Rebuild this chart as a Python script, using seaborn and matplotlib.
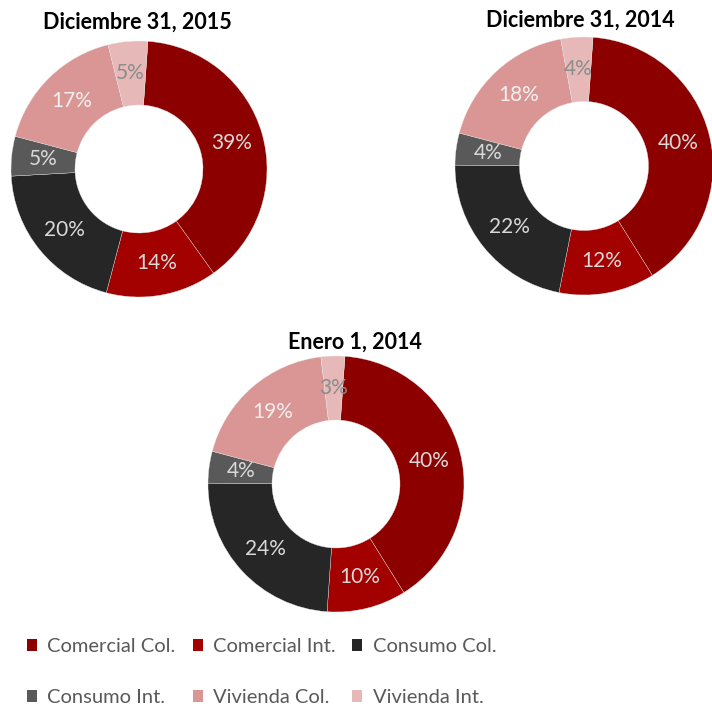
import numpy as np
import pandas as pd
import matplotlib
matplotlib.use("Agg")
import matplotlib.pyplot as plt
import seaborn as sns
from matplotlib.patches import Patch

# Datos (porcentajes)
categorias = ['Comercial Col.', 'Comercial Int.', 'Consumo Col.',
              'Consumo Int.', 'Vivienda Col.', 'Vivienda Int.']
dic_2015 = [39, 14, 20, 5, 17, 5]
dic_2014 = [40, 12, 22, 4, 18, 4]
ene_2014 = [40, 10, 24, 4, 19, 3]
titulos = ['Diciembre 31, 2015', 'Diciembre 31, 2014', 'Enero 1, 2014']

colores = ['#8c0000', '#a30000', '#262626', '#595959', '#d99694', '#e6b9b8']
color_pct = ['#d9d9d9', '#d9d9d9', '#d9d9d9', '#d9d9d9', '#f2efef', '#8c8c8c']

sns.set_theme(style='white')
plt.rcParams['font.family'] = ['Lato', 'DejaVu Sans']

W, H = 712, 710
fig = plt.figure(figsize=(W / 100, H / 100), dpi=100)

# centro y radio de cada dona, en pixeles desde arriba a la izquierda
donas = [(139, 169, 128), (584, 166, 129), (336, 484, 128)]
pos_titulo = [(137, 22), (580, 20), (355, 342)]
series = [dic_2015, dic_2014, ene_2014]

for vals, (cx, cy, r), titulo, (tx, ty) in zip(series, donas, titulos, pos_titulo):
    ax = fig.add_axes([(cx - r) / W, 1 - (cy + r) / H, 2 * r / W, 2 * r / H])
    wedges, textos, pcts = ax.pie(
        vals, colors=colores, startangle=86, counterclock=False, radius=1,
        wedgeprops=dict(width=0.5, edgecolor='#e8e8e8', linewidth=0.25),
        autopct=lambda p: f'{p:.0f}%', pctdistance=0.75,
        textprops=dict(fontsize=15))
    for t, c in zip(pcts, color_pct):
        t.set_color(c)
    ax.set_xlim(-1, 1)
    ax.set_ylim(-1, 1)
    ax.set_aspect('equal')
    ax.axis('off')
    fig.text(tx / W, 1 - ty / H, titulo, ha='center', va='center',
             fontsize=15.5, fontweight='bold', color='black')

# leyenda en dos filas (orden por filas)
orden = [0, 3, 1, 4, 2, 5]
handles = [Patch(facecolor=colores[i], edgecolor='none') for i in orden]
labels = [categorias[i] for i in orden]
fig.legend(handles, labels, ncol=3, loc='upper left',
           bbox_to_anchor=(27 / W, 1 - 638 / H), frameon=False,
           fontsize=14.5, labelcolor='#595959', handlelength=0.5,
           handleheight=0.5, handletextpad=0.5, columnspacing=0.85,
           labelspacing=1.7, borderaxespad=0, borderpad=0)

fig.savefig('out.png', dpi=100, facecolor='white')
